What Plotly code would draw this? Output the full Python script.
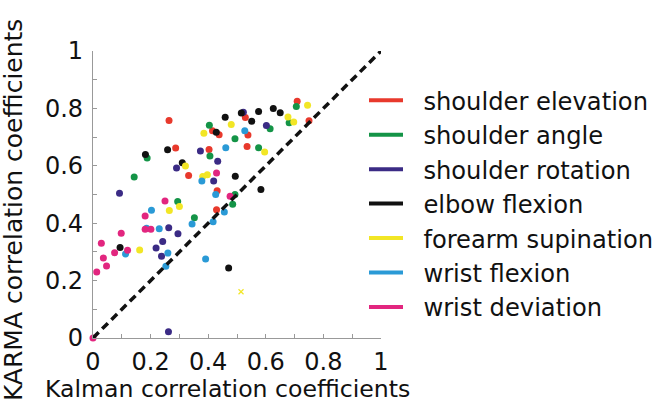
import plotly.graph_objects as go

# Correlation coefficients per joint: (Kalman, KARMA)
shoulder_elevation_x = [0.264, 0.415, 0.438, 0.287, 0.403, 0.332, 0.431, 0.429, 0.709, 0.529, 0.538, 0.535, 0.750]
shoulder_elevation_y = [0.758, 0.722, 0.708, 0.662, 0.657, 0.566, 0.513, 0.447, 0.825, 0.768, 0.707, 0.667, 0.757]

shoulder_angle_x = [0.404, 0.493, 0.188, 0.406, 0.143, 0.493, 0.294, 0.352, 0.485, 0.706, 0.681, 0.615, 0.575]
shoulder_angle_y = [0.741, 0.694, 0.627, 0.634, 0.561, 0.500, 0.476, 0.419, 0.466, 0.807, 0.750, 0.729, 0.663]

shoulder_rotation_x = [0.373, 0.433, 0.290, 0.419, 0.092, 0.263, 0.295, 0.242, 0.219, 0.238, 0.262, 0.522, 0.602]
shoulder_rotation_y = [0.652, 0.616, 0.592, 0.547, 0.504, 0.384, 0.363, 0.336, 0.314, 0.285, 0.022, 0.787, 0.740]

elbow_flexion_x = [0.459, 0.428, 0.515, 0.182, 0.259, 0.310, 0.494, 0.626, 0.650, 0.575, 0.551, 0.583, 0.094, 0.471]
elbow_flexion_y = [0.769, 0.717, 0.784, 0.639, 0.656, 0.611, 0.564, 0.800, 0.785, 0.789, 0.755, 0.517, 0.315, 0.244]

forearm_supination_x = [0.480, 0.385, 0.321, 0.381, 0.397, 0.300, 0.265, 0.162, 0.745, 0.677, 0.697, 0.596]
forearm_supination_y = [0.744, 0.713, 0.599, 0.563, 0.569, 0.458, 0.444, 0.307, 0.811, 0.770, 0.753, 0.648]
# a single faint forearm value drawn with a thin cross
forearm_faint_x = [0.514]
forearm_faint_y = [0.161]

wrist_flexion_x = [0.461, 0.378, 0.426, 0.527, 0.203, 0.186, 0.230, 0.344, 0.417, 0.456, 0.113, 0.260, 0.253, 0.391]
wrist_flexion_y = [0.663, 0.547, 0.500, 0.722, 0.445, 0.382, 0.381, 0.397, 0.405, 0.439, 0.293, 0.296, 0.250, 0.275]

wrist_deviation_x = [0.429, 0.476, 0.250, 0.181, 0.181, 0.201, 0.098, 0.029, 0.075, 0.120, 0.036, 0.047, 0.013, 0.000]
wrist_deviation_y = [0.575, 0.494, 0.477, 0.425, 0.379, 0.379, 0.365, 0.330, 0.297, 0.306, 0.279, 0.251, 0.230, 0.000]

identity_line = [0, 1]

joints = [
    ("shoulder elevation", shoulder_elevation_x, shoulder_elevation_y, "#e8392c"),
    ("shoulder angle", shoulder_angle_x, shoulder_angle_y, "#149447"),
    ("shoulder rotation", shoulder_rotation_x, shoulder_rotation_y, "#3b2b85"),
    ("elbow flexion", elbow_flexion_x, elbow_flexion_y, "#111111"),
    ("forearm supination", forearm_supination_x, forearm_supination_y, "#f2e625"),
    ("wrist flexion", wrist_flexion_x, wrist_flexion_y, "#2a9ad6"),
    ("wrist deviation", wrist_deviation_x, wrist_deviation_y, "#e2267f"),
]

FONT = "DejaVu Sans"
NBSP = "\u00a0"

fig = go.Figure()

for name, xs, ys, color in joints:
    fig.add_trace(go.Scatter(
        x=xs, y=ys, mode="markers", name=name, showlegend=False,
        marker=dict(size=7, color=color, line=dict(width=0)),
        cliponaxis=False, hoverinfo="skip",
    ))

fig.add_trace(go.Scatter(
    x=forearm_faint_x, y=forearm_faint_y, mode="markers", showlegend=False,
    marker=dict(size=5, symbol="x-thin", color="#f2e625", line=dict(width=1.2, color="#f2e625")),
    cliponaxis=False, hoverinfo="skip",
))

# legend entries drawn as short line samples
for name, xs, ys, color in joints:
    fig.add_trace(go.Scatter(
        x=[None], y=[None], mode="lines", name=NBSP * 2 + name, legendgroup=name,
        line=dict(color=color, width=4),
    ))

# identity reference line
fig.add_trace(go.Scatter(
    x=identity_line, y=identity_line, mode="lines", showlegend=False,
    line=dict(color="#111111", width=3.5, dash="8px,5px"),
    cliponaxis=False, hoverinfo="skip",
))

tick_vals = [i / 10 for i in range(11)]
tick_text = ["0", "", "0.2", "", "0.4", "", "0.6", "", "0.8", "", "1"]

axis_common = dict(
    range=[0, 1], tickmode="array", tickvals=tick_vals, ticktext=tick_text,
    ticks="inside", ticklen=4, tickwidth=1, tickcolor="#999999",
    showline=True, linecolor="#999999", linewidth=1.2,
    showgrid=False, zeroline=False,
    tickfont=dict(family=FONT, size=24, color="#111111"),
    fixedrange=True,
)

fig.update_xaxes(**axis_common, ticklabelstandoff=2)
fig.update_yaxes(**axis_common, ticklabelstandoff=4)

fig.update_layout(
    width=665, height=405,
    margin=dict(l=93, r=284, t=51, b=67, autoexpand=False),
    paper_bgcolor="white", plot_bgcolor="white",
    font=dict(family=FONT, color="#111111"),
    showlegend=True,
    legend=dict(
        x=(364 - 93) / 288, xanchor="left", y=1.0 - (95 - 51 - 17) / 287, yanchor="top",
        font=dict(family=FONT, size=24.2, color="#111111"),
        itemwidth=34, tracegroupgap=0, traceorder="normal",
        bgcolor="rgba(0,0,0,0)",
    ),
    annotations=[
        dict(text="Kalman correlation coefficients", xref="paper", yref="paper",
             x=(227 - 93) / 288, y=-0.178, xanchor="center", yanchor="middle", showarrow=False,
             font=dict(family=FONT, size=23.6, color="#111111")),
        dict(text="KARMA correlation coefficients", xref="paper", yref="paper",
             x=-0.274, y=0.446, xanchor="center", yanchor="middle", showarrow=False,
             textangle=-90, font=dict(family=FONT, size=25, color="#111111")),
    ],
)

fig.write_html("out.html")
